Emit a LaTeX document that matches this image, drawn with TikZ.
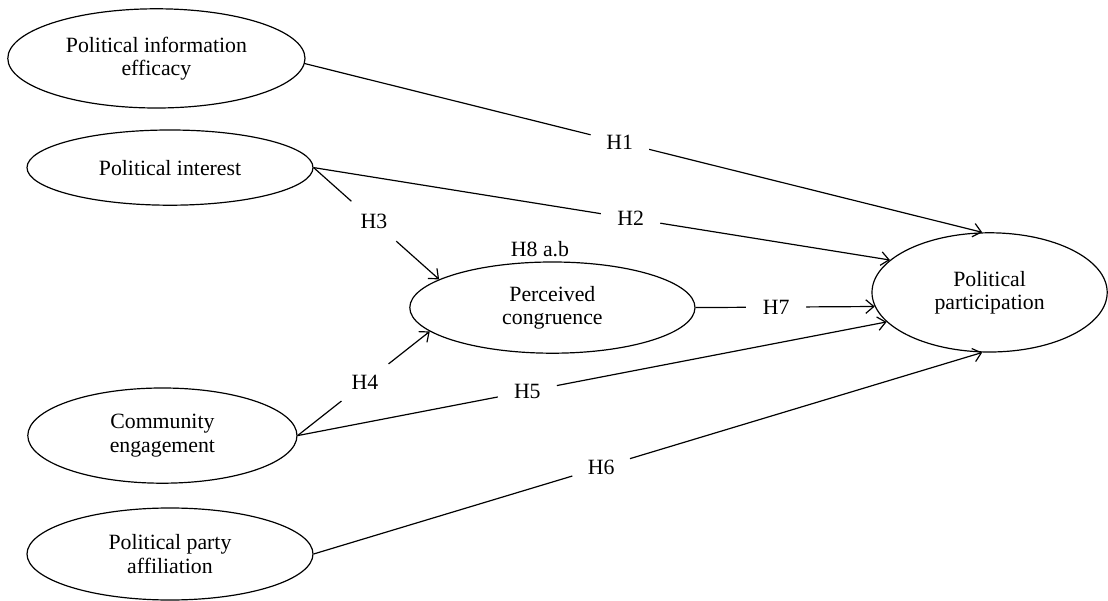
\documentclass[tikz,border=0pt]{standalone}
\usepackage{fontspec}
\setmainfont{Liberation Serif}
\usetikzlibrary{shapes.geometric}
\usetikzlibrary{arrows.meta}

\begin{document}
\begin{tikzpicture}[font=\fontsize{15.5}{16.5}\selectfont, line width=0.85pt,
  >={Straight Barb[length=2mm, width=3.4mm]},
  var/.style={ellipse, draw, align=center, inner sep=0pt},
  hyp/.style={circle, fill=white, inner sep=0pt, minimum size=1.5cm}]
\useasboundingbox (0, 0) rectangle (27.7, 15);
\node[var, minimum width=7.43cm, minimum height=2.48cm] (pie) at (3.91, 13.54) {Political information\\efficacy};
\node[var, minimum width=7.15cm, minimum height=1.88cm] (pi) at (4.25, 10.81) {Political interest};
\node[var, minimum width=7.13cm, minimum height=2.28cm] (pc) at (13.81, 7.31) {Perceived\\congruence};
\node[var, minimum width=6.73cm, minimum height=2.38cm] (ce) at (4.06, 4.11) {Community\\engagement};
\node[var, minimum width=7.15cm, minimum height=2.3cm] (ppa) at (4.25, 1.15) {Political party\\affiliation};
\node[var, minimum width=5.88cm, minimum height=2.98cm] (pp) at (24.74, 7.69) {Political\\participation};
\node (h8) at (13.5, 8.78) {H8 a.b};
\draw[->] (pie.-2) -- (pp.97) node[hyp, pos=0.465] (h1) {H1};
\draw[->] (pi.east) -- (pp.162) node[hyp, pos=0.55] (h2) {H2};
\draw[->] (pi.east) -- (pc.166) node[hyp, pos=0.48] (h3) {H3};
\draw[->] (ce.east) -- (pc.191) node[hyp, pos=0.51] (h4) {H4};
\draw[->] (ce.east) -- (pp.196) node[hyp, pos=0.39] (h5) {H5};
\draw[->] (ppa.east) -- (pp.263) node[hyp, pos=0.43] (h6) {H6};
\draw[->] (pc.east) -- (pp.187) node[hyp, pos=0.45] (h7) {H7};
\end{tikzpicture}
\end{document}
